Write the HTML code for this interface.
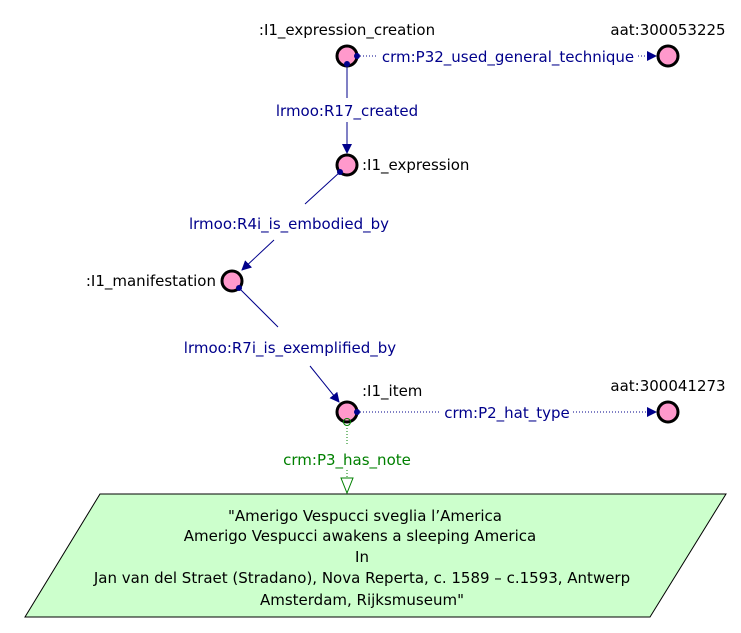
<!DOCTYPE html>
<html><head><style>body{margin:0;background:#fff}svg{display:block}text{font-family:"DejaVu Sans","Liberation Sans",sans-serif;font-size:15px}</style></head>
<body>
<svg width="741" height="633" viewBox="0 0 741 633" xmlns="http://www.w3.org/2000/svg">
<defs>
<marker id="a" markerWidth="10" markerHeight="10" refX="9" refY="5" orient="auto" markerUnits="userSpaceOnUse"><path d="M0,0 L10,5 L0,10 z" fill="#00008b"/></marker>
</defs>
<line x1="347" y1="64" x2="347" y2="98" stroke="#00008b"/>
<line x1="347" y1="122" x2="347" y2="153" stroke="#00008b" marker-end="url(#a)"/>
<line x1="357" y1="56" x2="378" y2="56" stroke="#00008b" stroke-dasharray="1,2"/>
<line x1="638" y1="56" x2="656" y2="56" stroke="#00008b" stroke-dasharray="1,2" marker-end="url(#a)"/>
<text x="508" y="62" fill="#00008b" text-anchor="middle">crm:P32_used_general_technique</text>
<text x="347" y="116" fill="#00008b" text-anchor="middle">lrmoo:R17_created</text>
<line x1="340" y1="172" x2="305" y2="204" stroke="#00008b"/>
<line x1="274" y1="240" x2="242" y2="270" stroke="#00008b" marker-end="url(#a)"/>
<text x="289" y="229" fill="#00008b" text-anchor="middle">lrmoo:R4i_is_embodied_by</text>
<line x1="239" y1="288" x2="278" y2="327" stroke="#00008b"/>
<line x1="310" y1="366" x2="339" y2="402" stroke="#00008b" marker-end="url(#a)"/>
<text x="290" y="353" fill="#00008b" text-anchor="middle">lrmoo:R7i_is_exemplified_by</text>
<line x1="357" y1="412" x2="440" y2="412" stroke="#00008b" stroke-dasharray="1,2"/>
<line x1="573" y1="412" x2="656" y2="412" stroke="#00008b" stroke-dasharray="1,2" marker-end="url(#a)"/>
<text x="507" y="418" fill="#00008b" text-anchor="middle">crm:P2_hat_type</text>
<line x1="347" y1="425" x2="347" y2="446" stroke="#008000" stroke-dasharray="1,2"/>
<line x1="347" y1="470" x2="347" y2="478" stroke="#008000" stroke-dasharray="1,2"/>
<text x="347" y="465" fill="#008000" text-anchor="middle">crm:P3_has_note</text>
<path d="M341,478 L353,478 L347,493 z" fill="#fff" stroke="#008000"/>
<g fill="#ff99cc" stroke="#000" stroke-width="3">
<circle cx="347" cy="56" r="10"/><circle cx="668" cy="56" r="10"/>
<circle cx="347" cy="165" r="10"/><circle cx="232" cy="281" r="10"/>
<circle cx="347" cy="412" r="10"/><circle cx="668" cy="412" r="10"/>
</g>
<circle cx="347" cy="64" r="3" fill="#00008b"/><circle cx="357" cy="56" r="3" fill="#00008b"/>
<circle cx="340" cy="172" r="3" fill="#00008b"/><circle cx="239" cy="288" r="3" fill="#00008b"/>
<circle cx="357" cy="412" r="3" fill="#00008b"/>
<circle cx="347" cy="422" r="3.5" fill="none" stroke="#008000"/>
<g fill="#000">
<text x="347" y="35" text-anchor="middle">:I1_expression_creation</text>
<text x="668" y="35" text-anchor="middle">aat:300053225</text>
<text x="362" y="170">:I1_expression</text>
<text x="216" y="286" text-anchor="end">:I1_manifestation</text>
<text x="362" y="396">:I1_item</text>
<text x="668" y="391" text-anchor="middle">aat:300041273</text>
</g>
<path d="M100,494 L726,494 L650,617 L25,617 z" fill="#ccffcc" stroke="#000"/>
<g fill="#000" text-anchor="middle">
<text x="365" y="521">"Amerigo Vespucci sveglia l’America</text>
<text x="360" y="541">Amerigo Vespucci awakens a sleeping America</text>
<text x="362" y="562">In</text>
<text x="362" y="583">Jan van del Straet (Stradano), Nova Reperta, c. 1589 – c.1593, Antwerp</text>
<text x="362" y="605">Amsterdam, Rijksmuseum"</text>
</g>
</svg>
</body></html>
